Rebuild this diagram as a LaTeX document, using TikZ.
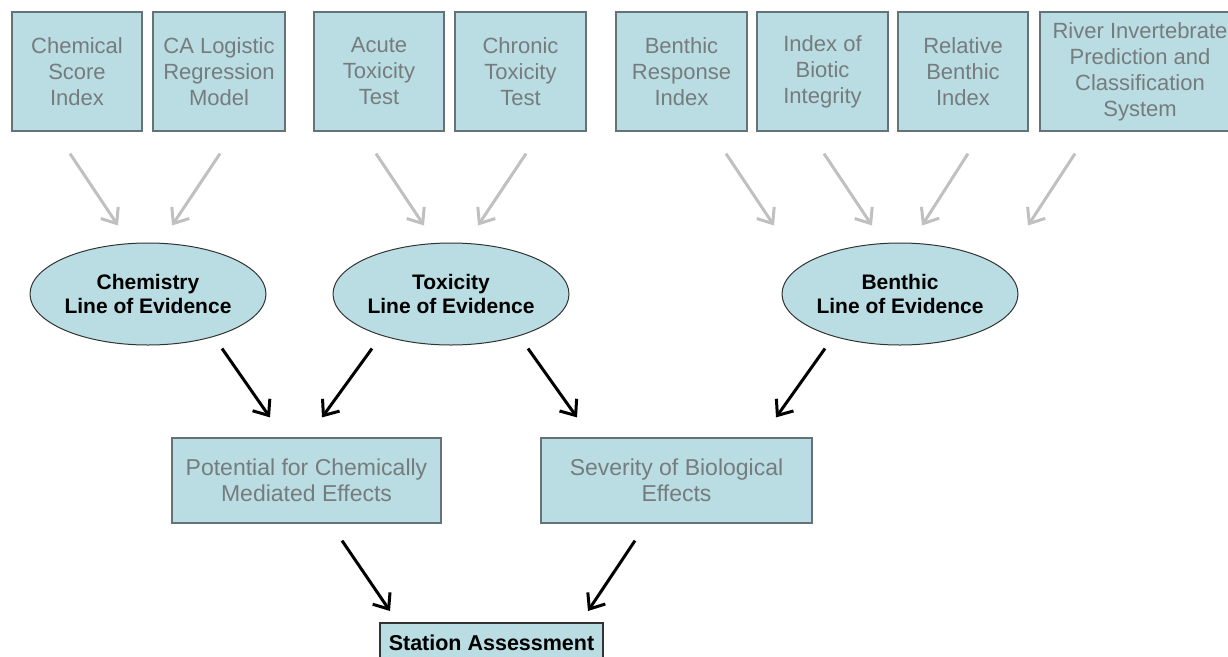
\documentclass[tikz,border=0pt]{standalone}
\usepackage{fontspec}
\setmainfont{Liberation Sans}
\usetikzlibrary{shapes.geometric,arrows.meta}
\definecolor{boxfill}{RGB}{185,221,226}
\definecolor{boxline}{RGB}{100,115,118}
\definecolor{softtext}{RGB}{118,124,126}
\definecolor{softarrow}{RGB}{192,192,192}
\begin{document}
\begin{tikzpicture}[x=1pt,y=-1pt,
  measure/.style={draw=boxline,line width=1.2pt,fill=boxfill,text=softtext,
    align=center,inner sep=0pt,minimum height=119pt,
    font=\fontsize{22}{26}\selectfont},
  lineofev/.style={ellipse,draw=black!80,line width=1pt,fill=boxfill,
    align=center,inner sep=0pt,minimum width=195pt,minimum height=102pt,
    font=\bfseries\fontsize{21}{24.5}\selectfont},
  outcome/.style={draw=boxline,line width=1.2pt,fill=boxfill,text=softtext,
    align=center,inner sep=0pt,minimum height=85pt,
    font=\fontsize{23}{26.5}\selectfont},
  finalbox/.style={draw=black!80,line width=2pt,fill=boxfill,
    align=center,inner sep=0pt,minimum width=223pt,minimum height=40pt,
    font=\bfseries\fontsize{21.5}{25}\selectfont},
  feed/.style={draw=softarrow,line width=3pt,
    -{Straight Barb[length=13pt,width=21pt]}},
  lead/.style={draw=black,line width=3pt,
    -{Straight Barb[length=13pt,width=21pt]}}
]
\useasboundingbox (0,0) rectangle (1228,656);

% measurement boxes
\node[measure,minimum width=130pt] (csi)  at (77,71.5)   {Chemical\\Score\\Index};
\node[measure,minimum width=132pt] (calr) at (219,71.5)  {CA Logistic\\Regression\\Model};
\node[measure,minimum width=130pt] (att)  at (379,71.5)  {Acute\\Toxicity\\Test};
\node[measure,minimum width=131pt] (ctt)  at (520.5,71.5){Chronic\\Toxicity\\Test};
\node[measure,minimum width=131pt] (bri)  at (681.5,71.5){Benthic\\Response\\Index};
\node[measure,minimum width=131pt] (ibi)  at (822.5,71.5){Index of\\Biotic\\Integrity};
\node[measure,minimum width=130pt] (rbi)  at (963,71.5)  {Relative\\Benthic\\Index};
\node[measure,minimum width=200pt] (rivp) at (1140,71.5) {River Invertebrate\\Prediction and\\Classification\\System};

% lines of evidence
\node[lineofev] (chem) at (148,294) {Chemistry\\Line of Evidence};
\node[lineofev] (tox)  at (451,294) {Toxicity\\Line of Evidence};
\node[lineofev] (ben)  at (900,294) {Benthic\\Line of Evidence};

% effects
\node[outcome,minimum width=269pt] (pot) at (306.5,480.5) {Potential for Chemically\\Mediated Effects};
\node[outcome,minimum width=271pt] (sev) at (676.5,480.5) {Severity of Biological\\Effects};

% final assessment
\node[finalbox] (st) at (491.5,643) {Station Assessment};

% measures feeding each line of evidence
\draw[feed] ([shift={(-7,22)}]csi.south)   -- ([shift={(-30,-17)}]chem.north);
\draw[feed] ([shift={(1,22)}]calr.south)   -- ([shift={(24,-17)}]chem.north);
\draw[feed] ([shift={(-3,22)}]att.south)   -- ([shift={(-27,-17)}]tox.north);
\draw[feed] ([shift={(5.5,22)}]ctt.south)  -- ([shift={(27,-17)}]tox.north);
\draw[feed] ([shift={(44.5,22)}]bri.south) -- ([shift={(-126,-17)}]ben.north);
\draw[feed] ([shift={(1.5,22)}]ibi.south)  -- ([shift={(-28,-17)}]ben.north);
\draw[feed] ([shift={(5,22)}]rbi.south)    -- ([shift={(22,-17)}]ben.north);
\draw[feed] ([shift={(-65,22)}]rivp.south) -- ([shift={(128,-17)}]ben.north);

% lines of evidence into effects
\draw[lead] ([shift={(74,3)}]chem.south)  -- ([shift={(-36.5,-20)}]pot.north);
\draw[lead] ([shift={(-79,3)}]tox.south)  -- ([shift={(15.5,-20)}]pot.north);
\draw[lead] ([shift={(77,3)}]tox.south)   -- ([shift={(-99.5,-20)}]sev.north);
\draw[lead] ([shift={(-75,3)}]ben.south)  -- ([shift={(99.5,-20)}]sev.north);

% effects into the station assessment
\draw[lead] ([shift={(35.5,17)}]pot.south) -- ([shift={(-101.5,-11)}]st.north);
\draw[lead] ([shift={(-41.5,17)}]sev.south) -- ([shift={(96.5,-11)}]st.north);
\end{tikzpicture}
\end{document}
